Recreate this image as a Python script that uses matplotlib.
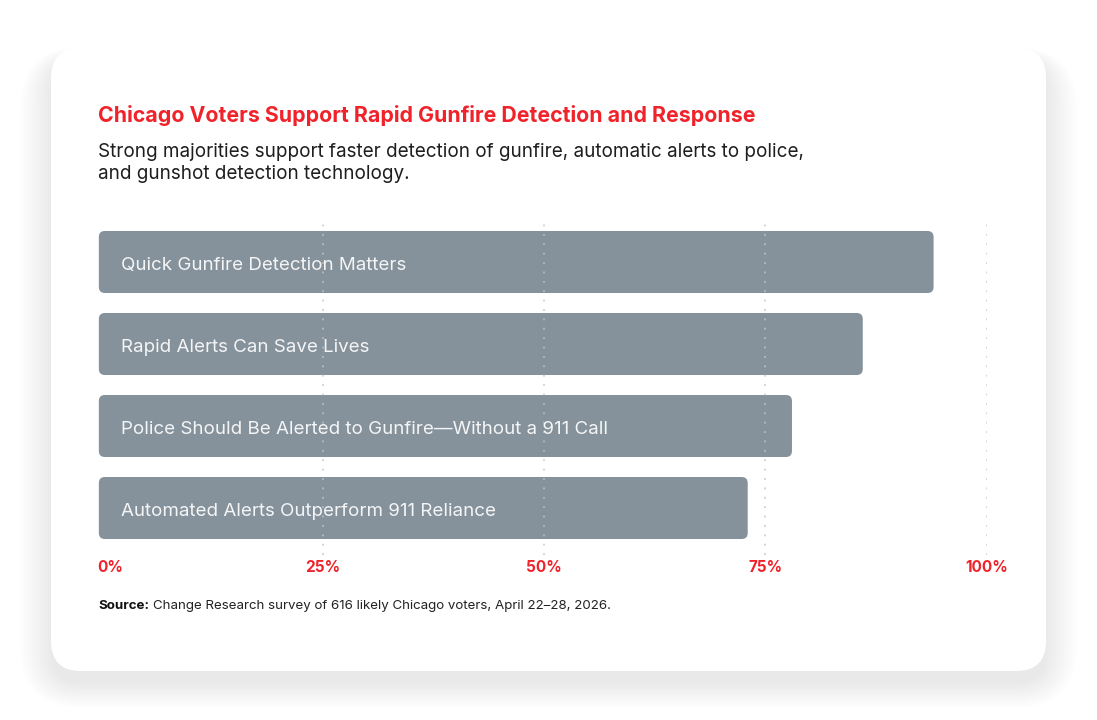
import matplotlib
matplotlib.use('Agg')
import matplotlib.pyplot as plt
from matplotlib.patches import FancyBboxPatch

plt.rcParams['font.family'] = ['Inter', 'DejaVu Sans']

# data
labels = ['Quick Gunfire Detection Matters',
          'Rapid Alerts Can Save Lives',
          'Police Should Be Alerted to Gunfire\u2014Without a 911 Call',
          'Automated Alerts Outperform 911 Reliance']
values = [94, 86, 78, 73]
ticks = [0, 25, 50, 75, 100]
tick_labels = ['0%', '25%', '50%', '75%', '100%']

title = 'Chicago Voters Support Rapid Gunfire Detection and Response'
subtitle = ['Strong majorities support faster detection of gunfire, automatic alerts to police,',
            'and gunshot detection technology.']
source = 'Change Research survey of 616 likely Chicago voters, April 22\u201328, 2026.'

RED = '#f0222a'
BAR = '#85929b'
W, H = 1097, 720

fig = plt.figure(figsize=(W / 100, H / 100), dpi=100)
fig.patch.set_facecolor('white')

# background layer in pixel units
bg = fig.add_axes([0, 0, 1, 1])
bg.set_xlim(0, W)
bg.set_ylim(H, 0)
bg.axis('off')

# soft shadow of the card
for i in range(22):
    grow = i * 1.5
    bg.add_patch(FancyBboxPatch((51 - grow, 48 + 12 - grow * 0.4), 995 + 2 * grow, 623 + grow * 1.2,
                                boxstyle='round,pad=0,rounding_size=%f' % (30 + grow),
                                fc='black', ec='none', alpha=0.0045, zorder=1))
bg.add_patch(FancyBboxPatch((51, 48), 995, 623, boxstyle='round,pad=0,rounding_size=30',
                            fc='white', ec='none', zorder=2))

bg.text(98, 122, title, color=RED, fontsize=15.35, fontweight='bold', va='baseline', zorder=3)
for k, line in enumerate(subtitle):
    bg.text(98, 157 + 22 * k, line, color='#1e1e1e', fontsize=13.6, va='baseline', zorder=3)

# tick labels
x0, x1 = 101.5, 986.7
for t, tl in zip(ticks, tick_labels):
    px = x0 + (x1 - x0) * t / 100
    if t == 0:
        bg.text(97, 572, tl, color=RED, fontsize=11, fontweight='bold', ha='left', va='baseline', zorder=3)
    else:
        bg.text(px, 572, tl, color=RED, fontsize=11, fontweight='bold', ha='center', va='baseline', zorder=3)

s1 = bg.text(98, 609, 'Source:', color='#111111', fontsize=9.6, fontweight='bold', va='baseline', zorder=3)
fig.canvas.draw()
ext = s1.get_window_extent()
bg.text(98 + ext.width + 4, 609, source, color='#222222', fontsize=9.6, va='baseline', zorder=3)

# bar axes
top, bottom = 220, 555
ax = fig.add_axes([x0 / W, 1 - bottom / H, (x1 - x0) / W, (bottom - top) / H])
ax.set_xlim(0, 100)
ax.set_ylim(3.573, -0.512)
ax.axis('off')
ax.patch.set_alpha(0)

px_per_x = (x1 - x0) / 100
px_per_y = 82
r = 6 / px_per_x
aspect = (6 / px_per_y) / r
bh = 62 / 82

for i, (lab, v) in enumerate(zip(labels, values)):
    ax.add_patch(FancyBboxPatch((-0.3, i - bh / 2), v + 0.3, bh,
                                boxstyle='round,pad=0,rounding_size=%f' % r,
                                mutation_aspect=aspect, fc=BAR, ec='none', zorder=2,
                                clip_on=False))
    ax.text(2.2, i + 8 / 82, lab, color='#f4f5f6', fontsize=13.5, va='baseline', ha='left', zorder=4)

for t in ticks[1:]:
    ax.axvline(t, color='#c4c4c4', lw=1.3, linestyle=(0, (1, 4.2)), zorder=3, alpha=0.8)

fig.savefig('out.png', dpi=100)
